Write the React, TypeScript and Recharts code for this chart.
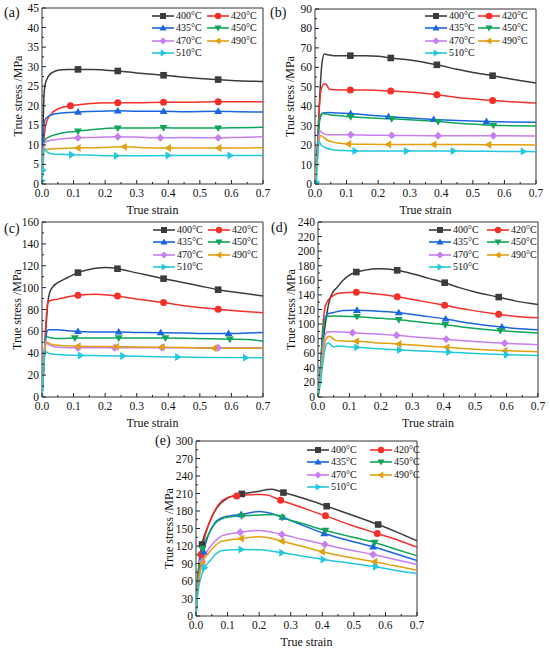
import React from 'react';
import { LineChart, Line, XAxis, YAxis, ReferenceArea, Legend } from 'recharts';

type Pt = [number, number];

const temps = ['400°C', '420°C', '435°C', '450°C', '470°C', '490°C', '510°C'];
const colors = ['#3c3c3c', '#f5302a', '#1a66e0', '#10a55a', '#c77ef0', '#e0a010', '#22c8dc'];
const shapes = ['square', 'circle', 'up', 'down', 'diamond', 'left', 'right'];

const xTicks = [0, 0.05, 0.1, 0.15, 0.2, 0.25, 0.3, 0.35, 0.4, 0.45, 0.5, 0.55, 0.6, 0.65, 0.7];
const xMajor = [0, 0.1, 0.2, 0.3, 0.4, 0.5, 0.6, 0.7];
const aYTicks = [0, 5, 10, 15, 20, 25, 30, 35, 40, 45];
const bYTicks = [0, 10, 20, 30, 40, 50, 60, 70, 80, 90];
const cYTicks = [0, 20, 40, 60, 80, 100, 120, 140, 160];
const dYTicks = [0, 20, 40, 60, 80, 100, 120, 140, 160, 180, 200, 220, 240];
const eYTicks = [0, 30, 60, 90, 120, 150, 180, 210, 240, 270, 300];

// ---- (a) ----
const a400: Pt[] = [[0, 0], [0.003, 12], [0.006, 22], [0.01, 25.5], [0.02, 27.5], [0.035, 28.6], [0.05, 29.1], [0.08, 29.3], [0.114, 29.3], [0.16, 29.3], [0.2, 29.1], [0.24, 28.9], [0.3, 28.4], [0.385, 27.8], [0.45, 27.3], [0.5, 27], [0.558, 26.7], [0.62, 26.4], [0.7, 26.2]];
const a420: Pt[] = [[0, 0], [0.004, 8], [0.008, 13], [0.015, 16], [0.03, 18], [0.05, 19.2], [0.07, 19.7], [0.09, 20], [0.13, 20.4], [0.18, 20.7], [0.24, 20.8], [0.3, 20.8], [0.385, 20.9], [0.45, 20.9], [0.558, 21], [0.62, 21], [0.7, 21]];
const a435: Pt[] = [[0, 0], [0.003, 10], [0.006, 15], [0.01, 16.5], [0.02, 17.3], [0.04, 17.9], [0.07, 18.2], [0.114, 18.4], [0.18, 18.6], [0.24, 18.7], [0.3, 18.6], [0.385, 18.6], [0.45, 18.5], [0.558, 18.6], [0.62, 18.5], [0.7, 18.4]];
const a450: Pt[] = [[0, 0], [0.003, 8], [0.006, 10.5], [0.012, 11.5], [0.03, 12.3], [0.06, 13], [0.114, 13.5], [0.17, 14], [0.24, 14.3], [0.3, 14.3], [0.385, 14.4], [0.45, 14.3], [0.558, 14.3], [0.62, 14.4], [0.7, 14.5]];
const a470: Pt[] = [[0, 0], [0.003, 7], [0.006, 10.3], [0.012, 10.8], [0.03, 11.2], [0.06, 11.5], [0.114, 11.8], [0.17, 11.9], [0.24, 12.1], [0.3, 12], [0.375, 11.8], [0.45, 11.9], [0.558, 11.8], [0.62, 11.9], [0.7, 12.1]];
const a490: Pt[] = [[0, 0], [0.003, 6], [0.007, 9], [0.015, 8.8], [0.03, 9], [0.06, 9.1], [0.114, 9.2], [0.18, 9.3], [0.26, 9.5], [0.32, 9.3], [0.4, 9.2], [0.48, 9.2], [0.56, 9.2], [0.63, 9.2], [0.7, 9.3]];
const a510: Pt[] = [[0, 0.8], [0.003, 3.5], [0.007, 9], [0.012, 8.5], [0.02, 8], [0.035, 7.7], [0.06, 7.6], [0.094, 7.5], [0.15, 7.4], [0.236, 7.2], [0.3, 7.2], [0.4, 7.3], [0.5, 7.3], [0.596, 7.3], [0.7, 7.3]];
const aMarks: number[][] = [
  [0.114, 0.24, 0.385, 0.558],
  [0.09, 0.24, 0.385, 0.558],
  [0.114, 0.24, 0.385, 0.558],
  [0.114, 0.24, 0.385, 0.558],
  [0.114, 0.24, 0.375, 0.558],
  [0.114, 0.26, 0.4, 0.56],
  [0, 0.003, 0.094, 0.236, 0.4, 0.596],
];

// ---- (b) ----
const b400: Pt[] = [[0, 0], [0.008, 20], [0.015, 45], [0.022, 62], [0.03, 66.8], [0.04, 66.5], [0.06, 66], [0.08, 66], [0.112, 66], [0.16, 66], [0.2, 65.7], [0.24, 64.8], [0.3, 63.8], [0.386, 61.3], [0.45, 59], [0.5, 57.3], [0.5625, 55.7], [0.62, 54], [0.7, 51.9]];
const b420: Pt[] = [[0, 0], [0.008, 20], [0.014, 40], [0.02, 49], [0.03, 51.5], [0.037, 51], [0.045, 48.8], [0.06, 48.5], [0.112, 48.3], [0.17, 48.3], [0.24, 47.8], [0.3, 47.3], [0.386, 45.9], [0.45, 44.5], [0.5625, 43], [0.62, 42.3], [0.7, 41.6]];
const b435: Pt[] = [[0, 0], [0.008, 18], [0.015, 33], [0.025, 36.5], [0.04, 36.8], [0.07, 36.5], [0.113, 36.2], [0.17, 35.4], [0.233, 34.6], [0.3, 34], [0.376, 33.2], [0.45, 32.6], [0.543, 32.1], [0.62, 31.9], [0.7, 31.7]];
const b450: Pt[] = [[0, 0], [0.008, 18], [0.015, 34], [0.022, 36.3], [0.035, 36], [0.06, 35.3], [0.113, 34.6], [0.18, 34], [0.243, 33.5], [0.3, 33], [0.39, 32.1], [0.45, 31.3], [0.52, 30.6], [0.565, 30.2], [0.62, 29.9], [0.7, 29.8]];
const b470: Pt[] = [[0, 0], [0.006, 12], [0.012, 24], [0.017, 27.3], [0.025, 26], [0.04, 25.3], [0.07, 25.3], [0.113, 25.3], [0.17, 25.1], [0.243, 25], [0.3, 24.9], [0.39, 24.8], [0.47, 24.8], [0.565, 24.8], [0.7, 24.7]];
const b490: Pt[] = [[0, 0], [0.006, 10], [0.012, 21], [0.018, 25], [0.025, 24.2], [0.04, 22.5], [0.06, 21.5], [0.085, 20.8], [0.106, 20.6], [0.17, 20.4], [0.233, 20.3], [0.3, 20.3], [0.376, 20.3], [0.46, 20.3], [0.55, 20.2], [0.7, 20.1]];
const b510: Pt[] = [[0, 0], [0.004, 1], [0.008, 12], [0.012, 22], [0.02, 20], [0.035, 18.5], [0.06, 17.5], [0.09, 17.2], [0.127, 17], [0.2, 17], [0.29, 17], [0.36, 17], [0.438, 17], [0.55, 16.8], [0.66, 16.7], [0.7, 16.6]];
const bMarks: number[][] = [
  [0.112, 0.24, 0.386, 0.5625],
  [0.112, 0.24, 0.386, 0.5625],
  [0.113, 0.233, 0.376, 0.543],
  [0.113, 0.243, 0.39, 0.565],
  [0.113, 0.243, 0.39, 0.565],
  [0.106, 0.233, 0.376, 0.55],
  [0, 0.004, 0.127, 0.29, 0.438, 0.66],
];

// ---- (c) ----
const c400: Pt[] = [[0, 0], [0.006, 30], [0.012, 60], [0.018, 85], [0.025, 96], [0.035, 101], [0.05, 104.5], [0.08, 109], [0.114, 113.7], [0.15, 116.5], [0.2, 118.3], [0.239, 117.3], [0.3, 113.5], [0.385, 108.2], [0.45, 104.5], [0.5, 101.5], [0.558, 98.1], [0.62, 95.5], [0.7, 92.3]];
const c420: Pt[] = [[0, 0], [0.006, 30], [0.012, 65], [0.018, 86], [0.025, 88], [0.05, 89.5], [0.08, 91.5], [0.114, 93], [0.17, 94], [0.239, 92.3], [0.3, 89.5], [0.385, 86.3], [0.45, 83.5], [0.558, 80.2], [0.62, 78.7], [0.7, 77.1]];
const c435: Pt[] = [[0, 0], [0.006, 30], [0.012, 55], [0.02, 61.6], [0.05, 61.5], [0.08, 60.5], [0.114, 60], [0.17, 59.5], [0.243, 59.5], [0.3, 59], [0.376, 58.8], [0.45, 58.5], [0.52, 58], [0.591, 58], [0.65, 58.5], [0.7, 59]];
const c450: Pt[] = [[0, 0], [0.006, 30], [0.01, 50], [0.015, 55], [0.03, 54], [0.06, 53.5], [0.104, 54], [0.17, 54], [0.243, 54], [0.3, 54], [0.391, 54], [0.45, 53.8], [0.52, 53.3], [0.595, 52.8], [0.65, 52.5], [0.7, 51]];
const c470: Pt[] = [[0, 0], [0.005, 30], [0.01, 51], [0.02, 48], [0.04, 46], [0.07, 45.3], [0.114, 45], [0.17, 45], [0.23, 45], [0.3, 45], [0.38, 45], [0.45, 45], [0.558, 45], [0.62, 45], [0.7, 45]];
const c490: Pt[] = [[0, 0], [0.005, 28], [0.01, 45], [0.016, 50], [0.03, 48], [0.06, 47], [0.114, 46.5], [0.17, 46.2], [0.235, 46], [0.3, 45.8], [0.38, 45.5], [0.45, 45.2], [0.545, 44.5], [0.62, 44.5], [0.7, 44.5]];
const c510: Pt[] = [[0, 0], [0.004, 20], [0.01, 42], [0.02, 40], [0.04, 39], [0.07, 38.5], [0.122, 38], [0.19, 37.8], [0.256, 37.5], [0.33, 37], [0.43, 36.5], [0.53, 36.2], [0.645, 36], [0.7, 36]];
const cMarks: number[][] = [
  [0.114, 0.239, 0.385, 0.558],
  [0.114, 0.239, 0.385, 0.558],
  [0.114, 0.243, 0.376, 0.591],
  [0.104, 0.243, 0.391, 0.595],
  [0.114, 0.23, 0.38, 0.558],
  [0.114, 0.235, 0.38, 0.545],
  [0, 0.122, 0.256, 0.43, 0.645],
];

// ---- (d) ----
const d400: Pt[] = [[0, 0], [0.008, 30], [0.015, 70], [0.025, 105], [0.035, 130], [0.045, 142], [0.06, 150], [0.08, 160], [0.1, 167], [0.122, 171.4], [0.15, 174], [0.19, 176], [0.22, 175.5], [0.252, 173.7], [0.3, 169], [0.35, 163], [0.403, 156.8], [0.45, 150], [0.5, 144], [0.575, 137], [0.63, 131.5], [0.7, 127]];
const d420: Pt[] = [[0, 0], [0.008, 40], [0.015, 95], [0.022, 122], [0.03, 131], [0.045, 138], [0.07, 142.5], [0.122, 143.5], [0.18, 141.5], [0.252, 137.6], [0.33, 131.5], [0.403, 125.7], [0.48, 119.5], [0.575, 113.4], [0.63, 110.5], [0.7, 108.8]];
const d435: Pt[] = [[0, 0], [0.008, 40], [0.015, 85], [0.022, 108], [0.03, 113.5], [0.05, 116], [0.08, 118.5], [0.124, 118.9], [0.18, 118], [0.257, 115.7], [0.33, 111.5], [0.406, 107], [0.48, 101.5], [0.585, 96], [0.63, 94], [0.7, 92.3]];
const d450: Pt[] = [[0, 0], [0.008, 40], [0.015, 85], [0.022, 106], [0.03, 110.5], [0.05, 111], [0.08, 110.8], [0.124, 110.2], [0.18, 108.5], [0.257, 106], [0.33, 102.5], [0.405, 99.2], [0.48, 95], [0.58, 91], [0.63, 89.5], [0.7, 87.8]];
const d470: Pt[] = [[0, 0], [0.008, 30], [0.015, 65], [0.022, 84], [0.03, 89], [0.05, 89.5], [0.08, 89], [0.11, 88.2], [0.18, 86.5], [0.25, 84.6], [0.32, 82], [0.408, 79.1], [0.5, 76], [0.594, 73.6], [0.7, 71.8]];
const d490: Pt[] = [[0, 0], [0.008, 25], [0.015, 55], [0.022, 75], [0.03, 82], [0.037, 83.2], [0.045, 81], [0.055, 78], [0.07, 77], [0.122, 76.3], [0.18, 74.5], [0.257, 72.7], [0.33, 70.5], [0.41, 68.1], [0.5, 65.5], [0.594, 63.5], [0.7, 62]];
const d510: Pt[] = [[0, 0], [0.008, 20], [0.015, 45], [0.022, 65], [0.028, 73], [0.033, 74], [0.04, 72], [0.05, 69], [0.06, 69.5], [0.075, 70], [0.09, 69], [0.124, 68.1], [0.18, 66.5], [0.26, 64.5], [0.33, 63], [0.416, 61.5], [0.5, 59.5], [0.6, 58], [0.7, 57]];
const dMarks: number[][] = [
  [0.122, 0.252, 0.403, 0.575],
  [0.122, 0.252, 0.403, 0.575],
  [0.124, 0.257, 0.406, 0.585],
  [0.124, 0.257, 0.405, 0.58],
  [0.11, 0.25, 0.408, 0.594],
  [0.122, 0.257, 0.41, 0.594],
  [0.124, 0.26, 0.416, 0.6],
];

// ---- (e) ----
const e400: Pt[] = [[0, 0], [0.005, 60], [0.019, 122.6], [0.035, 150], [0.05, 170], [0.07, 188], [0.1, 202], [0.145, 209.3], [0.19, 213], [0.24, 217.3], [0.277, 211.6], [0.35, 200], [0.414, 188.2], [0.5, 172], [0.577, 156.8], [0.64, 143], [0.7, 128.9]];
const e420: Pt[] = [[0, 0], [0.005, 55], [0.016, 105.5], [0.03, 140], [0.05, 170], [0.07, 190], [0.1, 203], [0.129, 205.9], [0.2, 208.2], [0.22, 208], [0.268, 198.5], [0.34, 185], [0.41, 171.7], [0.49, 156], [0.574, 141.4], [0.64, 130], [0.7, 118]];
const e435: Pt[] = [[0, 0], [0.006, 55], [0.024, 110], [0.04, 140], [0.06, 160], [0.08, 168], [0.11, 172], [0.143, 174], [0.2, 179], [0.22, 178], [0.274, 169.4], [0.34, 155], [0.406, 141.4], [0.48, 130], [0.561, 118.6], [0.63, 107], [0.7, 95.2]];
const e450: Pt[] = [[0, 0], [0.006, 60], [0.021, 115.8], [0.04, 140], [0.06, 158], [0.08, 166], [0.11, 170], [0.145, 171.7], [0.2, 173], [0.25, 174], [0.272, 169], [0.34, 158], [0.41, 146.6], [0.49, 136], [0.566, 126], [0.63, 115], [0.7, 103.2]];
const e470: Pt[] = [[0, 0], [0.006, 50], [0.02, 93], [0.04, 115], [0.06, 128], [0.08, 137], [0.1, 140], [0.14, 143.5], [0.2, 146.6], [0.272, 139.7], [0.34, 131], [0.408, 122.6], [0.48, 114], [0.561, 105.5], [0.63, 97], [0.7, 88.4]];
const e490: Pt[] = [[0, 0], [0.006, 45], [0.02, 90], [0.04, 108], [0.06, 120], [0.08, 128], [0.1, 130], [0.143, 132.9], [0.2, 135.7], [0.22, 135], [0.272, 128.3], [0.34, 119], [0.4, 110], [0.48, 101], [0.566, 93], [0.63, 86], [0.7, 78.7]];
const e510: Pt[] = [[0, 0], [0.006, 40], [0.027, 82.7], [0.045, 95], [0.06, 105], [0.08, 112], [0.1, 113], [0.143, 114], [0.2, 113.5], [0.272, 108.4], [0.34, 102.5], [0.403, 97], [0.49, 90.5], [0.569, 84.4], [0.63, 78.5], [0.7, 73]];
const eMarks: number[][] = [
  [0.019, 0.145, 0.277, 0.414, 0.577],
  [0.016, 0.129, 0.268, 0.41, 0.574],
  [0.024, 0.143, 0.274, 0.406, 0.561],
  [0.021, 0.145, 0.272, 0.41, 0.566],
  [0.02, 0.14, 0.272, 0.408, 0.561],
  [0.02, 0.143, 0.272, 0.4, 0.566],
  [0.027, 0.143, 0.272, 0.403, 0.569],
];

const FONT = '"Liberation Serif", "Times New Roman", serif';

type PanelCfg = {
  tag: string;
  plot: [number, number, number, number]; // L, T, R, B
  yTicks: number[];
  series: Pt[][];
  marks: number[][];
  legend: [number, number, number]; // left, top, col2 offset
  tagPos: [number, number];
  yLabGap: number;
};

const panels: PanelCfg[] = [
  { tag: '(a)', plot: [42, 8, 263, 184], yTicks: aYTicks, series: [a400, a420, a435, a450, a470, a490, a510], marks: aMarks, legend: [152, 10, 55], tagPos: [4, 4], yLabGap: 24 },
  { tag: '(b)', plot: [315, 9, 536, 184], yTicks: bYTicks, series: [b400, b420, b435, b450, b470, b490, b510], marks: bMarks, legend: [425, 10, 53], tagPos: [270, 4], yLabGap: 25 },
  { tag: '(c)', plot: [42, 222, 263, 397], yTicks: cYTicks, series: [c400, c420, c435, c450, c470, c490, c510], marks: cMarks, legend: [153, 224, 55], tagPos: [4, 220], yLabGap: 25 },
  { tag: '(d)', plot: [318, 222, 538, 397], yTicks: dYTicks, series: [d400, d420, d435, d450, d470, d490, d510], marks: dMarks, legend: [429, 224, 58], tagPos: [271, 219], yLabGap: 27 },
  { tag: '(e)', plot: [196, 441, 417, 616], yTicks: eYTicks, series: [e400, e420, e435, e450, e470, e490, e510], marks: eMarks, legend: [307, 444, 63], tagPos: [155, 432], yLabGap: 27 },
];

function Marker({ cx, cy, shape, color, s = 3.3 }: { cx: number; cy: number; shape: string; color: string; s?: number }) {
  const t = s * 1.2;
  switch (shape) {
    case 'square':
      return <rect x={cx - s} y={cy - s} width={2 * s} height={2 * s} fill={color} />;
    case 'circle':
      return <circle cx={cx} cy={cy} r={s + 0.2} fill={color} />;
    case 'up':
      return <polygon points={`${cx},${cy - t} ${cx + t},${cy + s * 0.8} ${cx - t},${cy + s * 0.8}`} fill={color} />;
    case 'down':
      return <polygon points={`${cx},${cy + t} ${cx + t},${cy - s * 0.8} ${cx - t},${cy - s * 0.8}`} fill={color} />;
    case 'diamond':
      return <polygon points={`${cx},${cy - t} ${cx + t},${cy} ${cx},${cy + t} ${cx - t},${cy}`} fill={color} />;
    case 'left':
      return <polygon points={`${cx - t},${cy} ${cx + s * 0.8},${cy - t} ${cx + s * 0.8},${cy + t}`} fill={color} />;
    default:
      return <polygon points={`${cx + t},${cy} ${cx - s * 0.8},${cy - t} ${cx - s * 0.8},${cy + t}`} fill={color} />;
  }
}

const isMajorX = (v: number) => xMajor.some((m) => Math.abs(m - v) < 1e-9);

function XTick(props: any) {
  const { x, y, payload } = props;
  const v = payload.value as number;
  const major = isMajorX(v);
  return (
    <g>
      <line x1={x} x2={x} y1={y} y2={y - (major ? 4 : 2)} stroke="#222" strokeWidth={1} />
      {major && (
        <text x={x} y={y + 13} textAnchor="middle" fontSize={11.5} fontFamily={FONT} fill="#111">
          {v.toFixed(1)}
        </text>
      )}
    </g>
  );
}

function makeYTick(majors: number[]) {
  return function YTick(props: any) {
    const { x, y, payload } = props;
    const v = payload.value as number;
    const major = majors.some((m) => Math.abs(m - v) < 1e-9);
    return (
      <g>
        <line x1={x} x2={x + (major ? 4 : 2)} y1={y} y2={y} stroke="#222" strokeWidth={1} />
        {major && (
          <text x={x - 3} y={y + 4} textAnchor="end" fontSize={11.5} fontFamily={FONT} fill="#111">
            {v}
          </text>
        )}
      </g>
    );
  };
}

function XLab(props: any) {
  const vb = props.viewBox || {};
  return (
    <text x={vb.x + vb.width / 2} y={vb.y + 30} textAnchor="middle" fontSize={12} fontFamily={FONT} fill="#111">
      True strain
    </text>
  );
}

function makeYLab(gap: number) {
  return function YLab(props: any) {
    const vb = props.viewBox || {};
    const cx = vb.x + vb.width - gap;
    const cy = vb.y + vb.height / 2;
    return (
      <text x={cx} y={cy} transform={`rotate(-90, ${cx}, ${cy})`} textAnchor="middle" dominantBaseline="central" fontSize={12} fontFamily={FONT} fill="#111">
        True stress /MPa
      </text>
    );
  };
}

function LegendBox({ col2 }: { col2: number }) {
  return (
    <div style={{ position: 'relative', width: col2 * 2, height: 52, fontFamily: FONT, fontSize: 10, color: '#111' }}>
      {temps.map((t, i) => {
        const col = i % 2;
        const row = Math.floor(i / 2);
        return (
          <div key={t} style={{ position: 'absolute', left: col * col2, top: row * 12.3, height: 12, display: 'flex', alignItems: 'center', whiteSpace: 'nowrap' }}>
            <svg width={22} height={12} style={{ display: 'block' }}>
              <line x1={0} x2={22} y1={6} y2={6} stroke={colors[i]} strokeWidth={1.6} />
              <Marker cx={11} cy={6} shape={shapes[i]} color={colors[i]} s={3} />
            </svg>
            <span style={{ marginLeft: 2, lineHeight: '12px' }}>{t}</span>
          </div>
        );
      })}
    </div>
  );
}

function Panel({ cfg }: { cfg: PanelCfg }) {
  const [L, T, R, B] = cfg.plot;
  const padL = 40;
  const padT = 12;
  const padR = 12;
  const axisH = 40;
  const w = R - L + padL + padR;
  const h = B - T + padT + axisH;
  const left = L - padL;
  const top = T - padT;
  const yMax = cfg.yTicks[cfg.yTicks.length - 1];
  const step = cfg.yTicks[1] - cfg.yTicks[0];
  const yAll: number[] = [];
  cfg.yTicks.forEach((v, i) => {
    yAll.push(v);
    if (i < cfg.yTicks.length - 1) yAll.push(v + step / 2);
  });
  const YTick = makeYTick(cfg.yTicks);
  const YLab = makeYLab(cfg.yLabGap);
  return (
    <>
      <div style={{ position: 'absolute', left, top, width: w, height: h }}>
        <LineChart width={w} height={h} margin={{ top: padT, right: padR, left: 0, bottom: 0 }}>
          <XAxis
            type="number"
            dataKey="x"
            domain={[0, 0.7]}
            allowDataOverflow
            ticks={xTicks}
            interval={0}
            tickSize={0}
            tickMargin={0}
            tick={<XTick />}
            axisLine={false}
            height={axisH}
            label={<XLab />}
          />
          <YAxis
            type="number"
            domain={[0, yMax]}
            allowDataOverflow
            ticks={yAll}
            interval={0}
            tickSize={0}
            tickMargin={0}
            tick={<YTick />}
            axisLine={false}
            width={padL}
            label={<YLab />}
          />
          {cfg.series.map((pts, i) => {
            const marks = cfg.marks[i];
            return (
              <Line
                key={temps[i]}
                data={pts.map(([x, y]) => ({ x, y }))}
                dataKey="y"
                type="monotone"
                stroke={colors[i]}
                strokeWidth={1.5}
                isAnimationActive={false}
                activeDot={false}
                dot={(p: any) => {
                  const { cx, cy, payload, index } = p;
                  if (!marks.some((m) => Math.abs(m - payload.x) < 1e-9)) return <g key={`d${i}-${index}`} />;
                  return (
                    <g key={`d${i}-${index}`}>
                      <Marker cx={cx} cy={cy} shape={shapes[i]} color={colors[i]} />
                    </g>
                  );
                }}
              />
            );
          })}
          <ReferenceArea x1={0} x2={0.7} y1={0} y2={yMax} fill="none" stroke="#333" strokeWidth={1} ifOverflow="visible" />
          <Legend
            layout="horizontal"
            verticalAlign="middle"
            align="center"
            wrapperStyle={{ left: cfg.legend[0] - left, top: cfg.legend[1] - top, width: cfg.legend[2] * 2, height: 52 }}
            content={() => <LegendBox col2={cfg.legend[2]} />}
          />
        </LineChart>
      </div>
      <div style={{ position: 'absolute', left: cfg.tagPos[0], top: cfg.tagPos[1], fontFamily: FONT, fontSize: 14, lineHeight: '18px', color: '#111' }}>
        {cfg.tag}
      </div>
    </>
  );
}

export default function App() {
  return (
    <div style={{ position: 'absolute', left: 0, top: 0, width: 550, height: 651, background: '#fff', overflow: 'hidden' }}>
      {panels.map((p) => (
        <Panel key={p.tag} cfg={p} />
      ))}
    </div>
  );
}
